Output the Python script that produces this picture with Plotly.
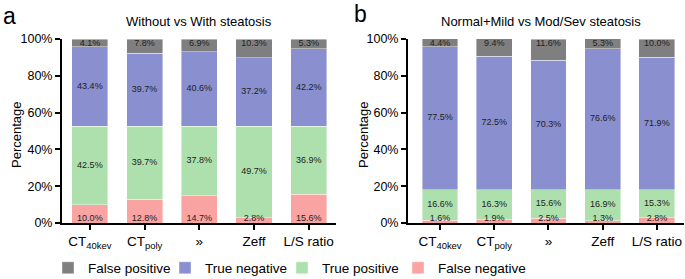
import plotly.graph_objects as go

categories = ["CT<sub>40kev</sub>", "CT<sub>poly</sub>", "»", "Zeff", "L/S ratio"]
series_names = ["False negative", "True positive", "True negative", "False positive"]
colors = {"False negative": "#f9a3a3", "True positive": "#aee0ad",
          "True negative": "#8a8fcf", "False positive": "#7f7f7f"}

# Panel a: Without vs With steatosis
a_false_negative = [10.0, 12.8, 14.7, 2.8, 15.6]
a_true_positive = [42.5, 39.7, 37.8, 49.7, 36.9]
a_true_negative = [43.4, 39.7, 40.6, 37.2, 42.2]
a_false_positive = [4.1, 7.8, 6.9, 10.3, 5.3]

# Panel b: Normal+Mild vs Mod/Sev steatosis
b_false_negative = [1.6, 1.9, 2.5, 1.3, 2.8]
b_true_positive = [16.6, 16.3, 15.6, 16.9, 15.3]
b_true_negative = [77.5, 72.5, 70.3, 76.6, 71.9]
b_false_positive = [4.4, 9.4, 11.6, 5.3, 10.0]

yticks = [0, 20, 40, 60, 80, 100]
yticklabels = ["0%", "20%", "40%", "60%", "80%", "100%"]

panel_a = [a_false_negative, a_true_positive, a_true_negative, a_false_positive]
panel_b = [b_false_negative, b_true_positive, b_true_negative, b_false_positive]

W, H = 685, 279
FONT = "Arial, Liberation Sans, sans-serif"
YMAX = 100

fig = go.Figure()
for panel, (xa, ya, show) in zip([panel_a, panel_b], [("x", "y", True), ("x2", "y2", False)]):
    base = [0.0] * len(categories)
    for name, vals in zip(series_names, panel):
        fig.add_trace(go.Bar(
            x=categories, y=vals, name=name, xaxis=xa, yaxis=ya,
            marker=dict(color=colors[name], line=dict(color="rgba(255,255,255,0.7)", width=0.6)),
            width=0.66, showlegend=show, legendgroup=name, hoverinfo="skip",
            legend="legend2" if name == "False negative" else "legend",
        ))
        if name == "False negative":
            ty, tpos = list(base), "top center"
        elif name == "False positive":
            ty, tpos = [min(b + v, YMAX) for b, v in zip(base, vals)], "bottom center"
        else:
            ty, tpos = [b + v / 2 for b, v in zip(base, vals)], "middle center"
        fig.add_trace(go.Scatter(
            x=categories, y=ty, mode="text", text=[f"{v:.1f}%" for v in vals],
            textposition=tpos, textfont=dict(size=9, color="#222", family=FONT),
            xaxis=xa, yaxis=ya, showlegend=False, cliponaxis=False, hoverinfo="skip",
        ))
        base = [b + v for b, v in zip(base, vals)]

def px_x(p):
    return p / W

def px_y(p):
    return (H - p) / H

line_common = dict(showline=True, linewidth=2, linecolor="black", ticks="outside",
                   tickwidth=2, tickcolor="black", showgrid=False, zeroline=False,
                   automargin=False)
xfont = dict(size=13.5, color="black", family=FONT)
yfont = dict(size=12.5, color="black", family=FONT)
legend_common = dict(orientation="h", xanchor="left", y=px_y(268), yanchor="middle",
                     traceorder="reversed", font=dict(size=13.5, family=FONT),
                     bgcolor="rgba(0,0,0,0)", entrywidth=72)

fig.update_layout(
    width=W, height=H, margin=dict(l=0, r=0, t=0, b=0, autoexpand=False),
    paper_bgcolor="white", plot_bgcolor="white", barmode="stack",
    font=dict(family=FONT, color="black"),
    xaxis=dict(domain=[px_x(62), px_x(336)], range=[-0.51, 4.5], anchor="y", ticklen=5,
               tickfont=xfont, **line_common),
    xaxis2=dict(domain=[px_x(408), px_x(684)], range=[-0.59, 4.5], anchor="y2", ticklen=5,
                tickfont=xfont, **line_common),
    yaxis=dict(domain=[px_y(223), px_y(39)], range=[0, YMAX], tickvals=yticks, ticktext=yticklabels,
               anchor="x", ticklen=5, tickfont=yfont, **line_common),
    yaxis2=dict(domain=[px_y(223), px_y(39)], range=[0, YMAX], tickvals=yticks, ticktext=yticklabels,
                anchor="x2", ticklen=5, tickfont=yfont, **line_common),
    legend=dict(x=px_x(48), **legend_common),
    legend2=dict(x=px_x(398), **{k: v for k, v in legend_common.items() if k != "entrywidth"}),
    annotations=[
        dict(text="Without vs With steatosis", x=px_x(199), y=px_y(21), xref="paper", yref="paper",
             showarrow=False, font=dict(size=13), xanchor="center", yanchor="middle"),
        dict(text="Normal+Mild vs Mod/Sev steatosis", x=px_x(541), y=px_y(21), xref="paper", yref="paper",
             showarrow=False, font=dict(size=13), xanchor="center", yanchor="middle"),
        dict(text="Percentage", x=px_x(16), y=px_y(135), xref="paper", yref="paper", showarrow=False,
             textangle=-90, font=dict(size=13), xanchor="center", yanchor="middle"),
        dict(text="Percentage", x=px_x(363), y=px_y(135), xref="paper", yref="paper", showarrow=False,
             textangle=-90, font=dict(size=13), xanchor="center", yanchor="middle"),
        dict(text="a", x=px_x(1), y=px_y(16), xref="paper", yref="paper", showarrow=False,
             font=dict(size=23), xanchor="left", yanchor="middle"),
        dict(text="b", x=px_x(352), y=px_y(14), xref="paper", yref="paper", showarrow=False,
             font=dict(size=23), xanchor="left", yanchor="middle"),
    ],
)

fig.write_html("out.html", config={"displayModeBar": False},
               post_script="document.body.style.margin='0';")
